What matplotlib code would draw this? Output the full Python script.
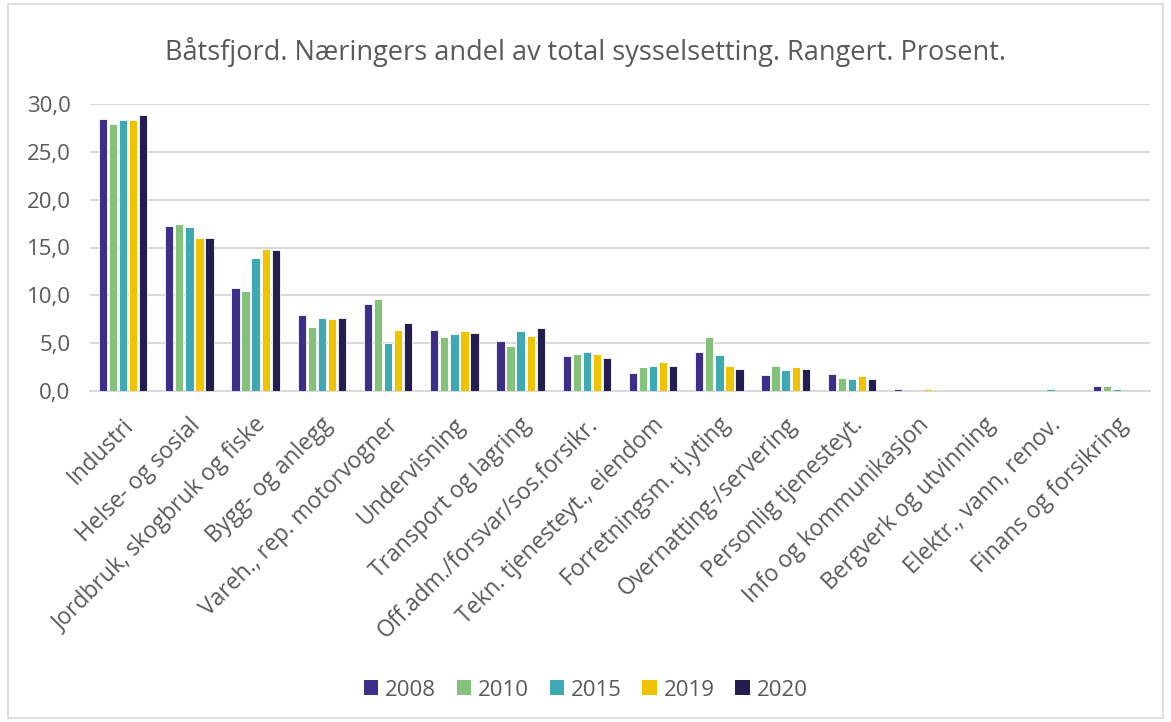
import matplotlib
matplotlib.use("Agg")
import matplotlib.pyplot as plt
import numpy as np
from matplotlib.patches import Rectangle, Patch

categories = ["Industri", "Helse- og sosial", "Jordbruk, skogbruk og fiske", "Bygg- og anlegg",
              "Vareh., rep. motorvogner", "Undervisning", "Transport og lagring",
              "Off.adm./forsvar/sos.forsikr.", "Tekn. tjenesteyt., eiendom",
              "Forretningsm. tj.yting", "Overnatting-/servering", "Personlig tjenesteyt.",
              "Info og kommunikasjon", "Bergverk og utvinning", "Elektr., vann, renov.",
              "Finans og forsikring"]
years = ["2008", "2010", "2015", "2019", "2020"]
v2008 = [28.4, 17.2, 10.8, 7.9, 9.1, 6.4, 5.2, 3.7, 1.9, 4.1, 1.7, 1.8, 0.2, 0.0, 0.0, 0.5]
v2010 = [27.9, 17.5, 10.5, 6.7, 9.6, 5.6, 4.7, 3.9, 2.5, 5.6, 2.6, 1.4, 0.0, 0.0, 0.0, 0.5]
v2015 = [28.3, 17.1, 13.9, 7.6, 5.0, 6.0, 6.3, 4.1, 2.6, 3.8, 2.2, 1.3, 0.0, 0.0, 0.2, 0.2]
v2019 = [28.3, 16.0, 14.8, 7.5, 6.4, 6.3, 5.7, 3.9, 3.0, 2.6, 2.5, 1.6, 0.2, 0.0, 0.0, 0.0]
v2020 = [28.9, 16.0, 14.7, 7.6, 7.1, 6.1, 6.6, 3.4, 2.6, 2.3, 2.3, 1.25, 0.0, 0.0, 0.0, 0.0]
series = [v2008, v2010, v2015, v2019, v2020]
colors = ["#3C2F8A", "#84C17A", "#3EA9B3", "#F0C300", "#221E50"]

plt.rcParams['font.family'] = ['Open Sans', 'DejaVu Sans']
txt = "#595959"

fig = plt.figure(figsize=(11.71, 7.22), dpi=100)
fig.patches.append(Rectangle((8/1171, 4/722), 1155/1171, 714/722, transform=fig.transFigure,
                             fill=False, edgecolor="#D9D9D9", linewidth=1.2))
ax = fig.add_axes([90/1171, 1 - 391/722, 1060/1171, (391 - 104)/722])

x = np.arange(len(categories))
step = 0.152
w = 0.125
for i, (vals, c, y) in enumerate(zip(series, colors, years)):
    ax.bar(x + (i - 2) * step, vals, width=w, color=c, edgecolor="white", linewidth=0.6,
           label=y, zorder=3)

ax.set_xlim(-0.5, len(categories) - 0.5)
ax.set_ylim(0, 30)
ax.set_yticks(np.arange(0, 31, 5))
ax.set_yticklabels([f"{v:.1f}".replace(".", ",") for v in np.arange(0, 31, 5)], fontsize=16, color=txt)
ax.yaxis.grid(True, color="#D9D9D9", linewidth=1.5, zorder=0)
ax.set_axisbelow(True)
for s in ["top", "right", "left"]:
    ax.spines[s].set_visible(False)
ax.spines["bottom"].set_color("#D9D9D9")
ax.spines["bottom"].set_linewidth(1.5)
ax.tick_params(axis="both", length=0)
ax.tick_params(axis="y", pad=14)
ax.set_xticks(x - 0.02)
ax.set_xticklabels(categories, rotation=45, ha="right", rotation_mode="anchor", fontsize=16.5, color=txt)
ax.tick_params(axis="x", pad=16)

fig.text(0.5, 1 - 52/722, "Båtsfjord. Næringers andel av total sysselsetting. Rangert. Prosent.",
         ha="center", va="center", fontsize=19.5, color=txt)

handles = [Patch(facecolor=c, edgecolor="none", label=y) for c, y in zip(colors, years)]
fig.legend(handles=handles, loc="center", bbox_to_anchor=(0.5, 1 - 690/722), ncol=5,
           frameon=False, fontsize=16, handlelength=0.64, handleheight=0.64, handletextpad=0.3,
           columnspacing=0.95, labelcolor=txt)

fig.savefig("out.png", dpi=100)
